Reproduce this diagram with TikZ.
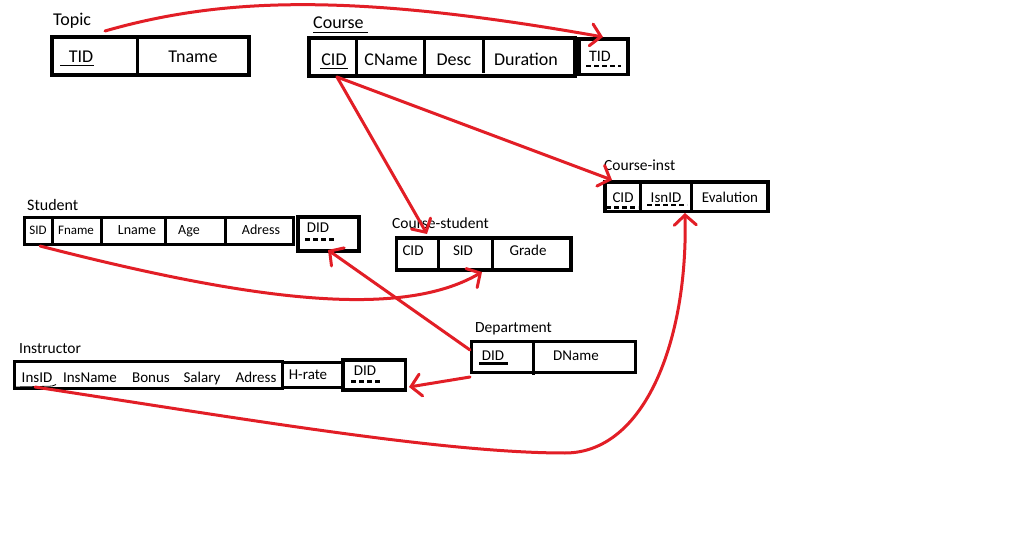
\documentclass[tikz,border=0pt]{standalone}
\usepackage{fontspec}
\setmainfont{Carlito}
\usetikzlibrary{arrows.meta}
\definecolor{penred}{RGB}{226,30,38}
\begin{document}
\begin{tikzpicture}[x=1pt,y=-1pt,
  box/.style={draw=black,line width=3.5pt,line cap=rect},
  thinbox/.style={draw=black,line width=3pt,line cap=rect},
  sep/.style={draw=black,line width=3pt},
  lbl/.style={anchor=base west,inner sep=0pt,font=\fontsize{#1}{#1}\selectfont},
  lbl/.default=18,
  fld/.style={anchor=base,inner sep=0pt,font=\fontsize{#1}{#1}\selectfont},
  fld/.default=18,
  uline/.style={draw=black,line width=1.6pt},
  fkline/.style={draw=black,line width=2.6pt,dash pattern=on 5pt off 3pt},
  link/.style={draw=penred,line width=3pt,line cap=round,
    -{Straight Barb[length=10pt,width=22pt,line cap=round]}},
]
\useasboundingbox[fill=white] (0,0) rectangle (1023,556);

% ---------- Topic ----------
\node[lbl] (topicLbl) at (53,26) {Topic};
\draw[box] (52,37) rectangle (249,75);
\draw[sep] (137.5,37) -- (137.5,75);
\node[fld] (topicTID) at (81,63) {TID};
\draw[uline] (60,65.5) -- (94,65.5);
\node[fld] (topicName) at (193,63) {Tname};

% ---------- Course ----------
\node[lbl] (courseLbl) at (313,29) {Course};
\draw[draw=black,line width=1.3pt] (313,32.5) -- (368,32.5);
\draw[box] (309,38) rectangle (575,76);
\draw[sep] (356,38) -- (356,76);
\draw[sep] (424.5,38) -- (424.5,76);
\draw[draw=black,line width=3pt] (483,40) -- (483,73);
\node[fld] (courseCID) at (334,66) {CID};
\draw[uline] (320,68.5) -- (348,68.5);
\node[fld] (courseName) at (391,66) {CName};
\node[fld] (courseDesc) at (454,66) {Desc};
\node[fld] (courseDur) at (526,66) {Duration};
\draw[box] (579,39) rectangle (628,74.5);
\node[fld=16] (courseTID) at (600,62) {TID};
\draw[fkline] (586,66) -- (621,66);

% ---------- Student ----------
\node[lbl=16] (studentLbl) at (27,211) {Student};
\draw[thinbox] (24.5,218) rectangle (293,244.5);
\draw[sep] (52,218) -- (52,244.5);
\draw[sep] (101.5,218) -- (101.5,244.5);
\draw[sep] (165.5,218) -- (165.5,244.5);
\draw[sep] (225.5,218) -- (225.5,244.5);
\node[fld=13] (studentSID) at (38,235) {SID};
\node[fld=13] (studentF) at (76,235) {Fname};
\node[fld=14] (studentL) at (137,235) {Lname};
\node[fld=14] (studentAge) at (189,235) {Age};
\node[fld=14] (studentAdr) at (261,235) {Adress};
\draw[box] (298,217) rectangle (359,251);
\node[fld=15] (studentDID) at (318,233) {DID};
\draw[fkline] (305,239.5) -- (334,239.5);

% ---------- Course-student ----------
\draw[box] (396.5,238) rectangle (571,270);
\draw[sep] (438,238) -- (438,270);
\draw[sep] (492.7,238) -- (492.7,270);
\node[fld=15] (csCID) at (413,256) {CID};
\node[fld=15] (csSID) at (463,256) {SID};
\node[fld=15] (csGrade) at (528,256) {Grade};
\node[lbl=15.5] (csLbl) at (392,229) {Course-student};

% ---------- Course-inst ----------
\node[lbl=15.5] (ciLbl) at (604,171) {Course-inst};
\draw[box] (605,182) rectangle (768,211.5);
\draw[sep] (640,182) -- (640,211.5);
\draw[sep] (691.5,182) -- (691.5,211.5);
\node[fld=15] (ciCID) at (623,203) {CID};
\draw[fkline] (606,207.5) -- (638,207.5);
\node[fld=15] (ciIns) at (666,203) {IsnID};
\draw[fkline] (647,205) -- (687,205);
\node[fld=15] (ciEval) at (730,203) {Evalution};

% ---------- Instructor ----------
\node[lbl=15.5] (insLbl) at (19,353) {Instructor};
\draw[thinbox] (14,361) rectangle (282.5,388);
\node[fld=15] (insID) at (37,382) {InsID};
\draw[draw=black,line width=0.8pt] (15,387) -- (40,386.5) .. controls (48,386) and (52,387) .. (56,384.5);
\node[fld=15] (insName) at (90,382) {InsName};
\node[fld=15] (insBonus) at (151,382) {Bonus};
\node[fld=15] (insSalary) at (202,382) {Salary};
\node[fld=15] (insAdr) at (256,382) {Adress};
\draw[thinbox] (282.5,362) rectangle (343,387.5);
\node[fld=15] (insRate) at (308,379) {H-rate};
\draw[box] (343,360) rectangle (405.5,390);
\node[fld=15] (insDID) at (365,375) {DID};
\draw[fkline] (351,381.5) -- (381,381.5);

% ---------- Department ----------
\node[lbl=15.5] (depLbl) at (475,332) {Department};
\draw[thinbox] (471.5,341.5) rectangle (635,372.5);
\draw[sep] (533,341.5) -- (533,375);
\node[fld=15] (depDID) at (493,360) {DID};
\draw[draw=black,line width=2.6pt] (479,363.5) -- (508,363.5);
\node[fld=15] (depName) at (576,360) {DName};

% ---------- reference links ----------
\coordinate (tTail) at (105,31);
\coordinate (tHead) at (603,37);
\coordinate (cTail) at (337,77);
\coordinate (csHead) at (427,234);
\coordinate (ciHead) at (612,180);
\coordinate (sTail) at (40,246);
\coordinate (csSIDHead) at (482,272);
\coordinate (dTailS) at (470,350);
\coordinate (sDIDHead) at (328,250);
\coordinate (dTailI) at (470,377);
\coordinate (iDIDHead) at (409,387);
\coordinate (iTail) at (35,387);
\coordinate (iBend) at (565,453);
\coordinate (ciInsHead) at (685,213);

\draw[link] (tTail) .. controls (220,-2) and (350,-8) .. (tHead);
\draw[link] (cTail) -- (csHead);
\draw[link] (cTail) -- (ciHead);
\draw[link] (sTail) .. controls (250,300) and (400,320) .. (csSIDHead);
\draw[link] (dTailS) -- (sDIDHead);
\draw[link] (dTailI) -- (iDIDHead);
\draw[link] (iTail) .. controls (250,420) and (445,453) .. (iBend)
  .. controls (645,453) and (688,340) .. (ciInsHead);
\end{tikzpicture}
\end{document}
